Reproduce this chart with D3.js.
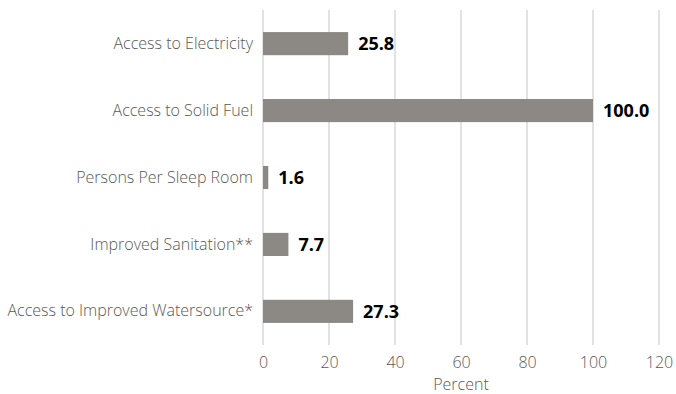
<!DOCTYPE html>
<html>
<head>
<meta charset="utf-8">
<script src="https://cdn.jsdelivr.net/npm/d3@7"></script>
<style>
  html, body { margin: 0; padding: 0; background: #fff; }
  svg { display: block; font-family: "Open Sans", Lato, sans-serif; }
</style>
</head>
<body>
<svg id="chart" width="676" height="394"></svg>
<script>
// Household indicators (percent)
const categories = [
  "Access to Electricity",
  "Access to Solid Fuel",
  "Persons Per Sleep Room",
  "Improved Sanitation**",
  "Access to Improved Watersource*"
];
const values = [25.8, 100.0, 1.6, 7.7, 27.3];
const xTicks = [0, 20, 40, 60, 80, 100, 120];
const xTitle = "Percent";

const svg = d3.select("#chart");
const margin = { top: 10, right: 17, bottom: 49, left: 263 };
const W = 676, H = 394;
const iw = W - margin.left - margin.right;
const ih = H - margin.top - margin.bottom;

const g = svg.append("g").attr("transform", `translate(${margin.left},${margin.top})`);

const x = d3.scaleLinear().domain([0, 120]).range([0, iw]);
const y = d3.scaleBand().domain(categories).range([0, ih]).paddingInner(0.655).paddingOuter(0.33);

const labelFont = "'Open Sans', Lato, sans-serif";
const labelColor = "#595959";

// vertical gridlines
g.selectAll("line.grid").data(xTicks).join("line")
  .attr("class", "grid")
  .attr("x1", d => x(d)).attr("x2", d => x(d))
  .attr("y1", 0).attr("y2", ih)
  .attr("stroke", "#d9d9d9").attr("stroke-width", 1.5);

// bars
const data = categories.map((c, i) => ({ c, v: values[i] }));
g.selectAll("rect.bar").data(data).join("rect")
  .attr("class", "bar")
  .attr("x", x(0))
  .attr("y", d => y(d.c))
  .attr("width", d => x(d.v) - x(0))
  .attr("height", y.bandwidth())
  .attr("fill", "#8c8883");

// value labels
g.selectAll("text.val").data(data).join("text")
  .attr("class", "val")
  .attr("x", d => x(d.v) + 10)
  .attr("y", d => y(d.c) + y.bandwidth() / 2)
  .attr("dy", "0.36em")
  .attr("font-size", 18)
  .attr("font-weight", 700)
  .attr("font-family", labelFont)
  .attr("fill", "#000")
  .text(d => d.v.toFixed(1));

// category axis
const yAxis = g.append("g").call(d3.axisLeft(y).tickSize(0).tickPadding(10));
yAxis.select(".domain").remove();
yAxis.selectAll("text")
  .attr("font-size", 16)
  .attr("font-weight", 300)
  .attr("fill", labelColor)
  .attr("font-family", labelFont);

// value axis
const xAxis = g.append("g").attr("transform", `translate(0,${ih})`)
  .call(d3.axisBottom(x).tickValues(xTicks).tickSize(0).tickPadding(12));
xAxis.select(".domain").remove();
xAxis.selectAll("text")
  .attr("font-size", 16)
  .attr("font-weight", 300)
  .attr("fill", labelColor)
  .attr("font-family", labelFont);

// axis title
g.append("text")
  .attr("x", iw / 2)
  .attr("y", ih + 45)
  .attr("text-anchor", "middle")
  .attr("font-size", 16)
  .attr("font-weight", 300)
  .attr("fill", labelColor)
  .attr("font-family", labelFont)
  .text(xTitle);
</script>
</body>
</html>
